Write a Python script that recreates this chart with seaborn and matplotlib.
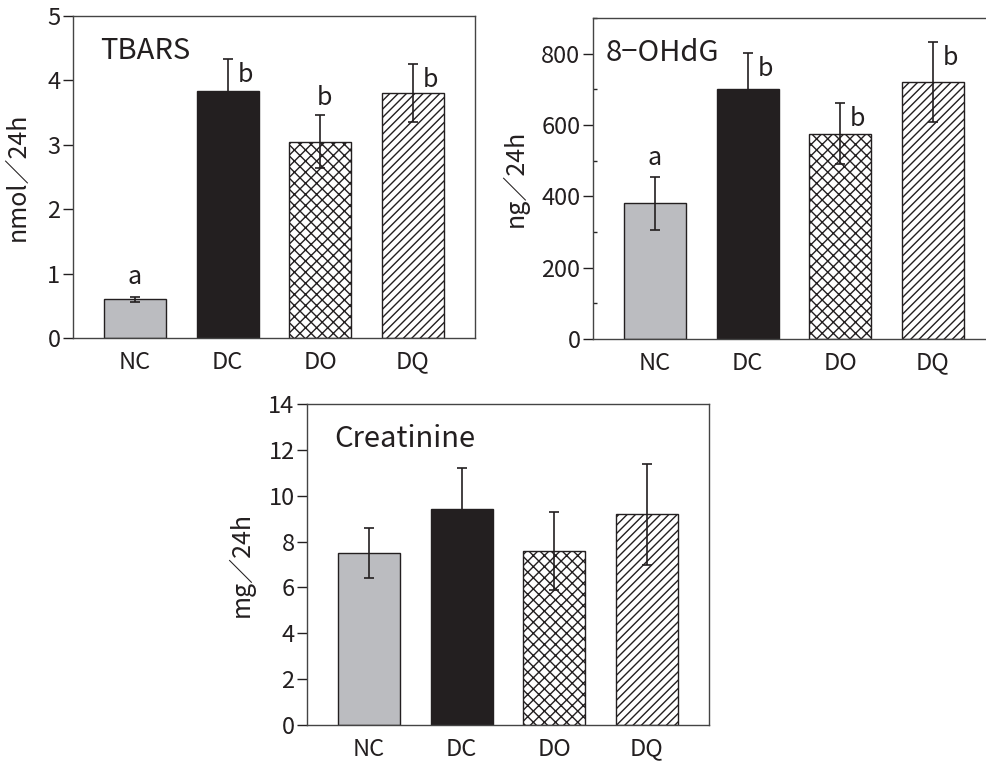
import numpy as np
import pandas as pd
import matplotlib
matplotlib.use('Agg')
import matplotlib.pyplot as plt
import seaborn as sns
from matplotlib.ticker import MultipleLocator

sns.set_theme(style='ticks')
plt.rcParams['font.family'] = ['Noto Sans CJK JP', 'DejaVu Sans']
plt.rcParams['hatch.linewidth'] = 1.0
plt.rcParams['hatch.color'] = '#231f20'

# 데이터
groups = ['NC', 'DC', 'DO', 'DQ']
tbars = [0.60, 3.83, 3.05, 3.80]
tbars_err = [0.04, 0.51, 0.41, 0.45]
tbars_sig = ['a', 'b', 'b', 'b']
ohdg = [380, 700, 576, 720]
ohdg_err = [73, 101, 86, 112]
ohdg_sig = ['a', 'b', 'b', 'b']
creat = [7.5, 9.4, 7.6, 9.2]
creat_err = [1.1, 1.8, 1.7, 2.2]

colors = ['#bbbcc0', '#231f20', 'white', 'white']
hatches = [None, None, 'xxx', '////']
dark = '#231f20'
FS = 17

fig = plt.figure(figsize=(9.86, 7.63), dpi=100)
ax1 = fig.add_axes([0.0740, 0.5570, 0.4077, 0.4220])
ax2 = fig.add_axes([0.6014, 0.5557, 0.4077, 0.4207])
ax3 = fig.add_axes([0.3114, 0.0498, 0.4077, 0.4207])


def draw(ax, vals, errs, ymax, ystep, ylabel, title, lab_x):
    df = pd.DataFrame({'group': groups, 'val': vals})
    sns.barplot(data=df, x='group', y='val', hue='group', palette=colors,
                legend=False, width=0.67, edgecolor=dark, linewidth=1.0,
                errorbar=None, ax=ax, saturation=1)
    for p, h in zip(ax.patches, hatches):
        if h:
            p.set_hatch(h)
    ax.errorbar(np.arange(len(groups)), vals, yerr=errs, fmt='none',
                ecolor=dark, elinewidth=1.2, capsize=3.5, capthick=1.2)
    ax.set_xlim(-0.67, 3.67)
    ax.set_ylim(0, ymax)
    ax.yaxis.set_major_locator(MultipleLocator(ystep))
    ax.set_xlabel('')
    ax.set_ylabel(ylabel, fontsize=18, color=dark)
    ax.yaxis.set_label_coords(lab_x, 0.5)
    ax.tick_params(axis='x', length=0, pad=9, labelsize=FS, colors=dark)
    ax.tick_params(axis='y', length=7, width=1, labelsize=FS, colors=dark, pad=2)
    for s in ax.spines.values():
        s.set_visible(True)
        s.set_color('#444444')
        s.set_linewidth(1.0)
    ax.text(0.067, 0.89, title, transform=ax.transAxes, fontsize=21,
            va='center', ha='left', color=dark)


draw(ax1, tbars, tbars_err, 5, 1, 'nmol／24h', 'TBARS', -0.105)
draw(ax2, ohdg, ohdg_err, 900, 200, 'ng／24h', '8−OHdG', -0.16)
draw(ax3, creat, creat_err, 14, 2, 'mg／24h', 'Creatinine', -0.13)
ax2.texts[0].set_x(0.032)
ax2.yaxis.set_minor_locator(MultipleLocator(100))
ax2.tick_params(axis='y', which='minor', direction='in', length=3, width=1)

# 유의성 표시 (a, b)
def sig(ax, vals, errs, letters, unit):
    for i, (v, e, s) in enumerate(zip(vals, errs, letters)):
        if s == 'a':
            ax.text(i, v + e + unit * 0.02, s, ha='center', va='bottom',
                    fontsize=18, color=dark)
        else:
            ax.text(i + 0.19, v + e - unit * 0.05, s, ha='center', va='center',
                    fontsize=18, color=dark)


sig(ax1, tbars, tbars_err, tbars_sig, 5)
sig(ax2, ohdg, ohdg_err, ohdg_sig, 900)
# DO 'b' in TBARS sits above the cap
ax1.texts[3].set_position((2.05, 3.72))

fig.savefig('out.png', dpi=100, facecolor='white')
